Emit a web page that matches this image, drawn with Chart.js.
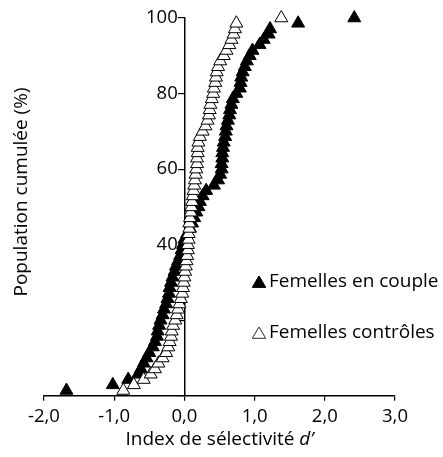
<!DOCTYPE html>
<html lang="fr">
<head>
<meta charset="UTF-8">
<title>Index de sélectivité</title>
<script src="https://cdn.jsdelivr.net/npm/chart.js"></script>
<style>
  html, body { margin: 0; padding: 0; background: #fff; }
  #wrap { width: 443px; height: 457px; }
</style>
</head>
<body>
<div id="wrap"><canvas id="cumulChart"></canvas></div>
<script>
// cumulative population (%) - one entry per animal, same for both groups
const cumulPct = [1.4, 2.9, 4.3, 5.7, 7.1, 8.6, 10.0, 11.4, 12.9, 14.3,
  15.7, 17.1, 18.6, 20.0, 21.4, 22.9, 24.3, 25.7, 27.1, 28.6,
  30.0, 31.4, 32.9, 34.3, 35.7, 37.1, 38.6, 40.0, 41.4, 42.9,
  44.3, 45.7, 47.1, 48.6, 50.0, 51.4, 52.9, 54.3, 55.7, 57.1,
  58.6, 60.0, 61.4, 62.9, 64.3, 65.7, 67.1, 68.6, 70.0, 71.4,
  72.9, 74.3, 75.7, 77.1, 78.6, 80.0, 81.4, 82.9, 84.3, 85.7,
  87.1, 88.6, 90.0, 91.4, 92.9, 94.3, 95.7, 97.1, 98.6, 100];

// d' values, femelles en couple (sorted)
const coupleD = [-1.68, -1.02, -0.80, -0.66, -0.62, -0.58, -0.54, -0.50, -0.45, -0.42,
  -0.39, -0.38, -0.36, -0.34, -0.31, -0.29, -0.26, -0.24, -0.22, -0.21,
  -0.19, -0.17, -0.14, -0.12, -0.09, -0.06, -0.04, -0.02, 0.00, 0.04,
  0.08, 0.11, 0.14, 0.17, 0.20, 0.22, 0.26, 0.31, 0.42, 0.48,
  0.51, 0.53, 0.53, 0.54, 0.54, 0.55, 0.56, 0.58, 0.59, 0.60,
  0.62, 0.64, 0.65, 0.67, 0.69, 0.74, 0.79, 0.80, 0.81, 0.83,
  0.86, 0.89, 0.93, 0.97, 1.07, 1.13, 1.20, 1.22, 1.62, 2.42];

// d' values, femelles controles (sorted)
const controlD = [-0.87, -0.72, -0.58, -0.48, -0.42, -0.37, -0.31, -0.26, -0.23, -0.21,
  -0.19, -0.18, -0.16, -0.13, -0.11, -0.09, -0.07, -0.05, -0.03, -0.02,
  -0.01, 0.00, 0.01, 0.02, 0.03, 0.04, 0.05, 0.05, 0.06, 0.06,
  0.07, 0.07, 0.08, 0.09, 0.10, 0.11, 0.12, 0.13, 0.14, 0.15,
  0.16, 0.17, 0.18, 0.18, 0.19, 0.19, 0.20, 0.22, 0.26, 0.30,
  0.33, 0.35, 0.36, 0.37, 0.39, 0.41, 0.42, 0.44, 0.45, 0.46,
  0.48, 0.51, 0.56, 0.60, 0.64, 0.67, 0.70, 0.72, 0.74, 1.38];

const seriesNames = ['Femelles en couple', 'Femelles contrôles'];
const yTickLabels = [40, 60, 80, 100];

const FONT = '"Open Sans", "Noto Sans", sans-serif';
const INK = '#000';

function toPoints(xs, ys) {
  return xs.map((x, i) => ({ x: x, y: ys[i] }));
}

// axis titles (x title has an italic d')
const titlesPlugin = {
  id: 'axisTitles',
  afterDraw(chart) {
    const ctx = chart.ctx;
    const area = chart.chartArea;
    const part1 = 'Index de sélectivité ';
    const part2 = 'd’';
    ctx.save();
    ctx.fillStyle = INK;
    ctx.textBaseline = 'middle';
    ctx.font = '19px ' + FONT;
    const w1 = ctx.measureText(part1).width;
    ctx.font = 'italic 19px ' + FONT;
    const w2 = ctx.measureText(part2).width;
    const x0 = (area.left + area.right) / 2 - (w1 + w2) / 2;
    ctx.font = '19px ' + FONT;
    ctx.fillText(part1, x0, 440);
    ctx.font = 'italic 19px ' + FONT;
    ctx.fillText(part2, x0 + w1, 440);

    ctx.translate(22, 192);
    ctx.rotate(-Math.PI / 2);
    ctx.textAlign = 'center';
    ctx.font = '19px ' + FONT;
    ctx.fillText('Population cumulée (%)', 0, 0);
    ctx.restore();
  }
};

// legend drawn inside the plot, right side
const legendPlugin = {
  id: 'sideLegend',
  afterDraw(chart) {
    const ctx = chart.ctx;
    const rows = [
      { label: seriesNames[0], fill: '#000', y: 282 },
      { label: seriesNames[1], fill: '#fff', y: 333 }
    ];
    ctx.save();
    rows.forEach(r => {
      Chart.helpers.drawPoint(ctx, {
        pointStyle: 'triangle', radius: 7.5, rotation: 0,
        borderWidth: 0.8
      }, 259, r.y + 1.5);
      ctx.fillStyle = r.fill;
      ctx.strokeStyle = r.fill === '#000' ? '#000' : '#555';
      ctx.fill();
      ctx.stroke();
      ctx.fillStyle = INK;
      ctx.font = '19px ' + FONT;
      ctx.textBaseline = 'middle';
      ctx.fillText(r.label, 269, r.y);
    });
    ctx.restore();
  }
};

new Chart(document.getElementById('cumulChart'), {
  type: 'scatter',
  data: {
    datasets: [
      {
        label: seriesNames[1],
        data: toPoints(controlD, cumulPct),
        pointStyle: 'triangle',
        pointRadius: 7.5,
        pointBackgroundColor: '#fff',
        pointBorderColor: '#000',
        pointBorderWidth: 1,
        clip: false,
        order: 0
      },
      {
        label: seriesNames[0],
        data: toPoints(coupleD, cumulPct),
        pointStyle: 'triangle',
        pointRadius: 7.5,
        pointBackgroundColor: '#000',
        pointBorderColor: '#000',
        pointBorderWidth: 1,
        clip: false,
        order: 1
      }
    ]
  },
  options: {
    responsive: true,
    maintainAspectRatio: false,
    animation: false,
    layout: { padding: { left: 44, right: 48, top: 18, bottom: 24 } },
    plugins: {
      legend: { display: false },
      tooltip: { enabled: false }
    },
    scales: {
      x: {
        type: 'linear',
        position: 'bottom',
        min: -2,
        max: 3,
        ticks: {
          stepSize: 1,
          color: INK,
          font: { family: FONT, size: 18.5 },
          padding: 5,
          callback: v => v.toFixed(1).replace('.', ',')
        },
        grid: { display: true, drawOnChartArea: false, tickLength: 5, color: '#000', lineWidth: 1.2 },
        border: { display: true, color: '#000', width: 1.5 }
      },
      y: {
        type: 'linear',
        position: { x: 0 },
        min: 0,
        max: 100,
        ticks: {
          stepSize: 20,
          color: INK,
          font: { family: FONT, size: 18.5 },
          // labels sit right on the axis here, the trailing space keeps a gap
          callback: v => yTickLabels.includes(v) ? v + ' \u200A' : ''
        },
        grid: { display: true, drawOnChartArea: false, tickLength: 6, color: '#000', lineWidth: 1.2 },
        border: { display: true, color: '#000', width: 1.5 }
      }
    }
  },
  plugins: [titlesPlugin, legendPlugin]
});
</script>
</body>
</html>
